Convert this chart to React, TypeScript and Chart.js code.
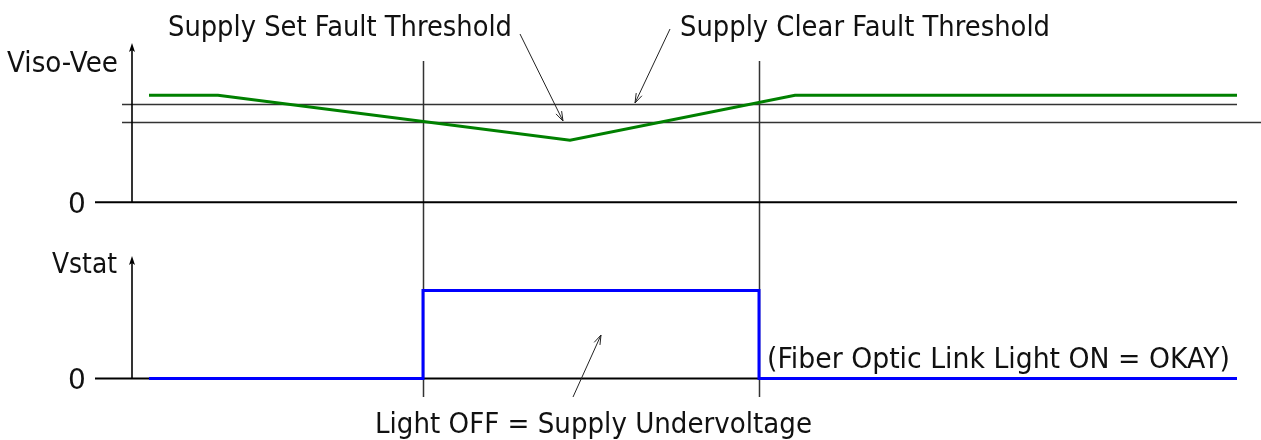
import React, { useEffect, useRef } from "react";
import { Chart, registerables } from "chart.js";

Chart.register(...registerables);

// ---- data (time units, volts) ----
const SUPPLY_TIMES = [1.7, 8.6, 43.8, 66.3, 110.5];
const SUPPLY_VOLTS = [15, 15, 8.7, 15, 15];
const STATUS_TIMES = [1.7, 29.1, 29.1, 62.7, 62.7, 110.5];
const STATUS_VOLTS = [0, 0, 5, 5, 0, 0];
const CLEAR_THRESHOLD = 13.7;
const SET_THRESHOLD = 11.2;
const FAULT_TIME = 29.1;
const CLEAR_TIME = 62.7;
const THRESHOLD_SPAN = [-1.0, 110.5];
const SET_SPAN = [-1.0, 112.9];
const TOP_ZERO_SPAN = [-3.7, 110.5];
const BOTTOM_ZERO_SPAN = [-3.7, 62.7];

const LABELS = {
  topAxis: "Viso-Vee",
  bottomAxis: "Vstat",
  zero: "0",
  setFault: "Supply Set Fault Threshold",
  clearFault: "Supply Clear Fault Threshold",
  lightOn: "(Fiber Optic Link Light ON = OKAY)",
  lightOff: "Light OFF = Supply Undervoltage",
};

// ---- layout ----
const W = 1261;
const H = 440;
const X_ORIGIN_PX = 132;
const PX_PER_T = 10;
const TOP_ZERO_PX = 202.3;
const TOP_PX_PER_V = 7.13;
const BOT_ZERO_PX = 378.5;
const BOT_PX_PER_V = 17.6;
const FONT = '"DejaVu Sans", Verdana, sans-serif';

function fitText(ctx: CanvasRenderingContext2D, text: string, x: number, y: number, w: number, size: number) {
  ctx.save();
  ctx.font = `${size}px ${FONT}`;
  ctx.textBaseline = "alphabetic";
  ctx.textAlign = "left";
  const m = ctx.measureText(text).width;
  ctx.translate(x, y);
  ctx.scale(w / m, 1);
  ctx.fillStyle = "#111";
  ctx.fillText(text, 0, 0);
  ctx.restore();
}

function openArrow(ctx: CanvasRenderingContext2D, x1: number, y1: number, x2: number, y2: number) {
  const a = Math.atan2(y2 - y1, x2 - x1);
  const L = 10;
  const s = 0.32;
  ctx.save();
  ctx.strokeStyle = "#222";
  ctx.lineWidth = 1;
  ctx.beginPath();
  ctx.moveTo(x1, y1);
  ctx.lineTo(x2, y2);
  ctx.moveTo(x2 - L * Math.cos(a - s), y2 - L * Math.sin(a - s));
  ctx.lineTo(x2, y2);
  ctx.lineTo(x2 - L * Math.cos(a + s), y2 - L * Math.sin(a + s));
  ctx.stroke();
  ctx.restore();
}

function axisArrow(ctx: CanvasRenderingContext2D, x: number, yBottom: number, yTop: number) {
  ctx.save();
  ctx.strokeStyle = "#000";
  ctx.fillStyle = "#000";
  ctx.lineWidth = 1.6;
  ctx.beginPath();
  ctx.moveTo(x, yBottom);
  ctx.lineTo(x, yTop + 4);
  ctx.stroke();
  ctx.beginPath();
  ctx.moveTo(x, yTop);
  ctx.lineTo(x - 3, yTop + 9);
  ctx.lineTo(x, yTop + 7);
  ctx.lineTo(x + 3, yTop + 9);
  ctx.closePath();
  ctx.fill();
  ctx.restore();
}

const annotations = {
  id: "timingAnnotations",
  beforeDatasetsDraw(chart: any) {
    const ctx = chart.ctx as CanvasRenderingContext2D;
    const xs = chart.scales.x;
    // event marker lines
    ctx.save();
    ctx.strokeStyle = "#333";
    ctx.lineWidth = 1.5;
    [FAULT_TIME, CLEAR_TIME].forEach((t) => {
      const px = Math.round(xs.getPixelForValue(t)) + 0.5;
      ctx.beginPath();
      ctx.moveTo(px, 61);
      ctx.lineTo(px, 397);
      ctx.stroke();
    });
    ctx.restore();
  },
  afterDatasetsDraw(chart: any) {
    const ctx = chart.ctx as CanvasRenderingContext2D;
    const xs = chart.scales.x;
    const ax = xs.getPixelForValue(0);
    axisArrow(ctx, ax, chart.scales.y.getPixelForValue(0), 43);
    axisArrow(ctx, ax, chart.scales.y2.getPixelForValue(0), 256);

    fitText(ctx, LABELS.topAxis, 7, 72, 111, 28);
    fitText(ctx, LABELS.bottomAxis, 52, 273, 65, 28);
    ctx.save();
    ctx.font = `28px ${FONT}`;
    ctx.fillStyle = "#111";
    ctx.textAlign = "center";
    ctx.fillText(LABELS.zero, 77, 213);
    ctx.fillText(LABELS.zero, 77, 389);
    ctx.restore();

    fitText(ctx, LABELS.setFault, 168, 36, 344, 28);
    fitText(ctx, LABELS.clearFault, 680, 36, 370, 28);
    fitText(ctx, LABELS.lightOn, 767, 368, 463, 28);
    fitText(ctx, LABELS.lightOff, 375, 433, 437, 28);

    openArrow(ctx, 520, 34, 563, 121);
    openArrow(ctx, 670, 29, 635, 103);
    openArrow(ctx, 573, 397, 601, 335);
  },
};

export default function App() {
  const ref = useRef<HTMLCanvasElement | null>(null);

  useEffect(() => {
    document.body.style.margin = "0";
    const canvas = ref.current;
    if (!canvas) return;

    const line = (xs: number[], ys: number[]) => xs.map((x, i) => ({ x, y: ys[i] }));

    const y1max = TOP_ZERO_PX / TOP_PX_PER_V;
    const y1min = y1max - H / TOP_PX_PER_V;
    const y2max = BOT_ZERO_PX / BOT_PX_PER_V;
    const y2min = y2max - H / BOT_PX_PER_V;

    const base = { pointRadius: 0, tension: 0, fill: false };

    const chart = new Chart(canvas, {
      type: "line",
      data: {
        datasets: [
          { ...base, label: "Viso-Vee", data: line(SUPPLY_TIMES, SUPPLY_VOLTS), borderColor: "#008000", borderWidth: 3, yAxisID: "y" },
          { ...base, label: "Vstat", data: line(STATUS_TIMES, STATUS_VOLTS), borderColor: "#0000ff", borderWidth: 3, yAxisID: "y2" },
          { ...base, label: "Clear threshold", data: line(THRESHOLD_SPAN, [CLEAR_THRESHOLD, CLEAR_THRESHOLD]), borderColor: "#333", borderWidth: 1.5, yAxisID: "y" },
          { ...base, label: "Set threshold", data: line(SET_SPAN, [SET_THRESHOLD, SET_THRESHOLD]), borderColor: "#333", borderWidth: 1.5, yAxisID: "y" },
          { ...base, label: "Top zero", data: line(TOP_ZERO_SPAN, [0, 0]), borderColor: "#000", borderWidth: 2, yAxisID: "y" },
          { ...base, label: "Bottom zero", data: line(BOTTOM_ZERO_SPAN, [0, 0]), borderColor: "#000", borderWidth: 2, yAxisID: "y2" },
        ],
      },
      options: {
        animation: false,
        responsive: false,
        maintainAspectRatio: false,
        layout: { padding: 0 },
        plugins: { legend: { display: false }, tooltip: { enabled: false }, title: { display: false } },
        events: [],
        scales: {
          x: { type: "linear", display: false, min: -X_ORIGIN_PX / PX_PER_T, max: (W - X_ORIGIN_PX) / PX_PER_T },
          y: { type: "linear", display: false, min: y1min, max: y1max },
          y2: { type: "linear", display: false, min: y2min, max: y2max },
        },
      },
      plugins: [annotations],
    });
    return () => chart.destroy();
  }, []);

  return (
    <div style={{ width: W, height: H, background: "#fff" }}>
      <canvas ref={ref} width={W} height={H} style={{ display: "block" }} />
    </div>
  );
}
